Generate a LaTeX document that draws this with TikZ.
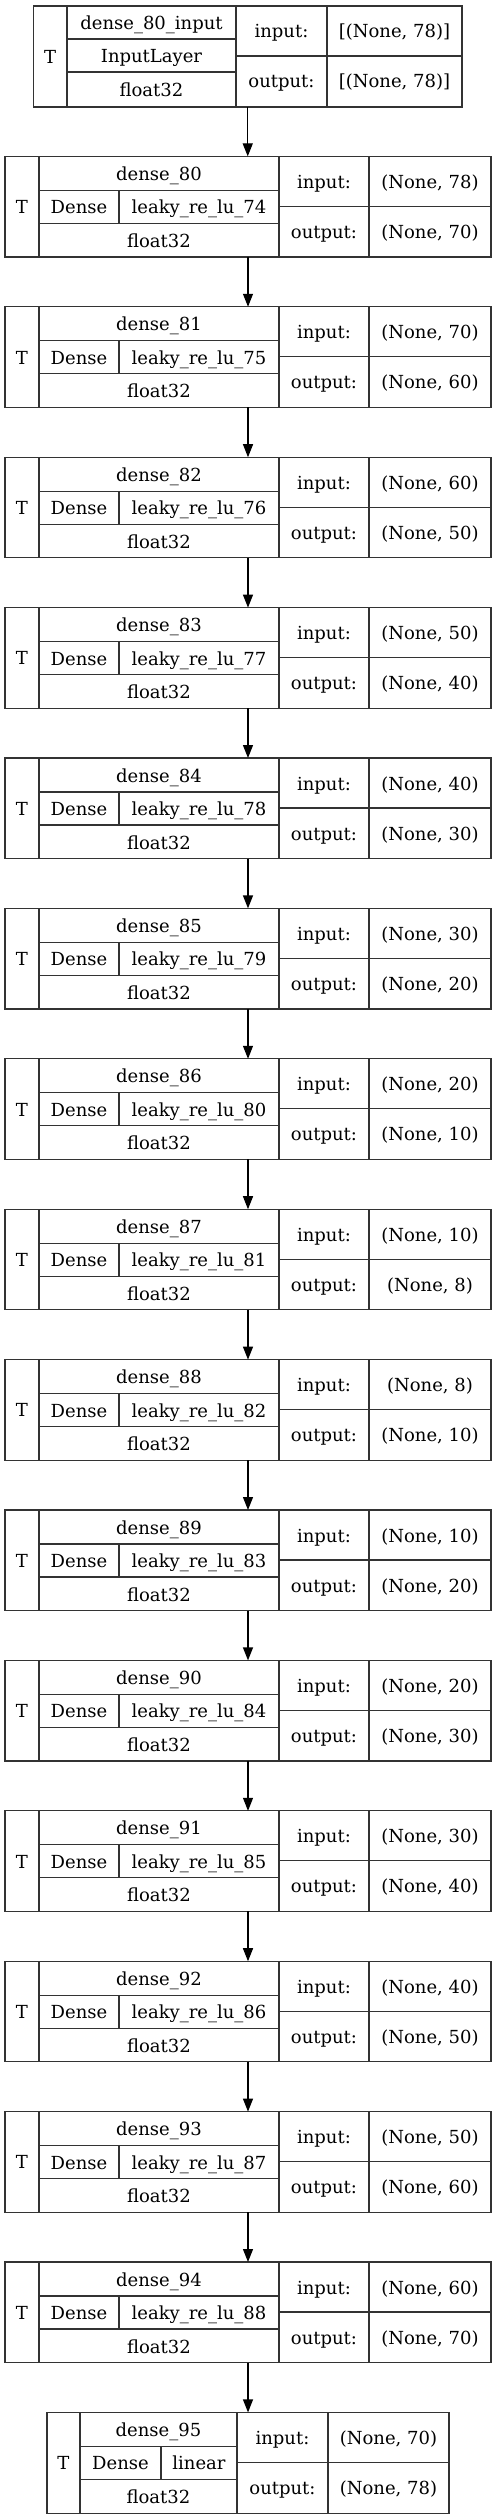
\documentclass[tikz,border=0pt]{standalone}
\usepackage{fontspec}
\setmainfont{DejaVu Serif}
\usetikzlibrary{arrows.meta}
\tikzset{
  cell/.style={draw=black!80, line width=1.2pt},
  lbl/.style={anchor=base, inner sep=0pt, font=\fontsize{18}{20}\selectfont},
  layer/.style={draw=black!80, line width=1.2pt, inner sep=0pt, outer sep=0pt, minimum height=100.5pt},
  flow/.style={-{Triangle[length=13pt,width=10pt]}, line width=1.2pt, draw=black},
}
\newcommand\midlayer[6]{%
  \pgfmathsetmacro\yt{6+#2*150.4}
  \node[layer, minimum width=486pt] (#1) at (248,\yt+50.25) {};
  \draw[cell] (39,\yt) -- (39,\yt+100.5);
  \draw[cell] (279,\yt) -- (279,\yt+100.5);
  \draw[cell] (369,\yt) -- (369,\yt+100.5);
  \draw[cell] (39,\yt+34) -- (279,\yt+34);
  \draw[cell] (39,\yt+67) -- (279,\yt+67);
  \draw[cell] (119,\yt+34) -- (119,\yt+67);
  \draw[cell] (279,\yt+50) -- (491,\yt+50);
  \node[lbl] at (22,\yt+57.25) {T};
  \node[lbl] at (159,\yt+24) {dense\_#3};
  \node[lbl] at (79,\yt+57.5) {Dense};
  \node[lbl] at (199,\yt+57.5) {leaky\_re\_lu\_#4};
  \node[lbl] at (159,\yt+91) {float32};
  \node[lbl] at (324,\yt+32) {input:};
  \node[lbl] at (430,\yt+32) {(None, #5)};
  \node[lbl] at (324,\yt+82) {output:};
  \node[lbl] at (430,\yt+82) {(None, #6)};
}
\begin{document}
\begin{tikzpicture}[x=1pt,y=-1pt]
\useasboundingbox (0,0) rectangle (496,2518);
% input layer
\node[layer, minimum width=428.5pt, minimum height=101pt] (b0) at (247.75,56.5) {};
\draw[cell] (67,6) -- (67,107);
\draw[cell] (236,6) -- (236,107);
\draw[cell] (327,6) -- (327,107);
\draw[cell] (67,39) -- (236,39);
\draw[cell] (67,72) -- (236,72);
\draw[cell] (236,56) -- (462,56);
\node[lbl] at (50.25,63.5) {T};
\node[lbl] at (151.5,29.5) {dense\_80\_input};
\node[lbl] at (151.5,62.5) {InputLayer};
\node[lbl] at (151.5,96.5) {float32};
\node[lbl] at (281.5,38) {input:};
\node[lbl] at (394.5,38) {[(None, 78)]};
\node[lbl] at (281.5,88) {output:};
\node[lbl] at (394.5,88) {[(None, 78)]};
% dense layers
\midlayer{b1}{1}{80}{74}{78}{70}
\midlayer{b2}{2}{81}{75}{70}{60}
\midlayer{b3}{3}{82}{76}{60}{50}
\midlayer{b4}{4}{83}{77}{50}{40}
\midlayer{b5}{5}{84}{78}{40}{30}
\midlayer{b6}{6}{85}{79}{30}{20}
\midlayer{b7}{7}{86}{80}{20}{10}
\midlayer{b8}{8}{87}{81}{10}{8}
\midlayer{b9}{9}{88}{82}{8}{10}
\midlayer{b10}{10}{89}{83}{10}{20}
\midlayer{b11}{11}{90}{84}{20}{30}
\midlayer{b12}{12}{91}{85}{30}{40}
\midlayer{b13}{13}{92}{86}{40}{50}
\midlayer{b14}{14}{93}{87}{50}{60}
\midlayer{b15}{15}{94}{88}{60}{70}
% output layer
\pgfmathsetmacro\yb{6+16*150.4}
\node[layer, minimum width=402pt, minimum height=101pt] (b16) at (248,\yb+50.5) {};
\draw[cell] (80,\yb) -- (80,\yb+101);
\draw[cell] (237,\yb) -- (237,\yb+101);
\draw[cell] (328,\yb) -- (328,\yb+101);
\draw[cell] (80,\yb+34) -- (237,\yb+34);
\draw[cell] (80,\yb+67) -- (237,\yb+67);
\draw[cell] (161,\yb+34) -- (161,\yb+67);
\draw[cell] (237,\yb+50) -- (449,\yb+50);
\node[lbl] at (63.5,\yb+57.5) {T};
\node[lbl] at (158.5,\yb+24) {dense\_95};
\node[lbl] at (120.5,\yb+57.5) {Dense};
\node[lbl] at (199,\yb+57.5) {linear};
\node[lbl] at (158.5,\yb+91) {float32};
\node[lbl] at (282.5,\yb+32) {input:};
\node[lbl] at (388.5,\yb+32) {(None, 70)};
\node[lbl] at (282.5,\yb+82) {output:};
\node[lbl] at (388.5,\yb+82) {(None, 78)};
% connectors
\foreach \a/\b in {b0/b1,b1/b2,b2/b3,b3/b4,b4/b5,b5/b6,b6/b7,b7/b8,b8/b9,b9/b10,b10/b11,b11/b12,b12/b13,b13/b14,b14/b15,b15/b16}
  \draw[flow] (\a.south) -- (\a.south |- \b.north);
\end{tikzpicture}
\end{document}
